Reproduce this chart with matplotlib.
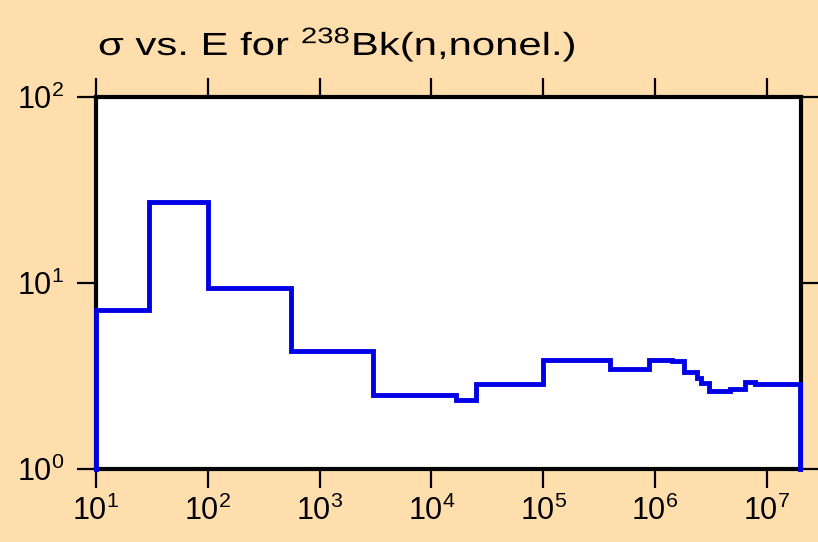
import matplotlib
matplotlib.use("Agg")
import matplotlib.pyplot as plt
import numpy as np
from matplotlib.patheffects import AbstractPathEffect
from matplotlib.transforms import Affine2D

plt.rcParams['font.family'] = ['Liberation Sans', 'DejaVu Sans']
plt.rcParams['mathtext.fontset'] = 'custom'
plt.rcParams['mathtext.rm'] = 'Liberation Sans'
plt.rcParams['mathtext.it'] = 'Liberation Sans'
plt.rcParams['mathtext.bf'] = 'Liberation Sans'
plt.rcParams['mathtext.default'] = 'regular'

# Bin edges (eV) and cross sections (b)
edges = [10, 30, 100, 550, 3000, 16500, 25000, 1.0e5, 4.0e5, 8.9e5, 1.42e6,
         1.82e6, 2.37e6, 2.57e6, 3.03e6, 4.74e6, 6.45e6, 7.93e6, 2.0e7]
sigma = [7.2, 27.2, 9.4, 4.3, 2.5, 2.35, 2.86, 3.85, 3.45, 3.85, 3.80,
         3.34, 3.08, 2.91, 2.64, 2.68, 2.93, 2.86]

title = r"σ vs. E for $^{238}$Bk(n,nonel.)"


class StretchX(AbstractPathEffect):
    """Horizontally widen glyph outlines (text stays a real Text artist)."""
    def __init__(self, sx):
        super().__init__()
        self.sx = sx

    def draw_path(self, renderer, gc, tpath, affine, rgbFace=None):
        renderer.draw_path(gc, tpath, Affine2D().scale(self.sx, 1.0) + affine,
                           rgbFace)


fig = plt.figure(figsize=(8.18, 5.42), dpi=100, facecolor='#FFDEAD')
ax = fig.add_axes([0.1174, 0.1347, 0.8616, 0.6863])
ax.set_facecolor('white')

x = np.array(edges)
y = np.concatenate([[1.0], sigma, [1.0]])
xs = np.concatenate([[edges[0]], x])
ax.step(xs, y, where='post', color='#0000E6', lw=3.5, solid_joinstyle='miter',
        clip_on=False, zorder=3.5)

ax.set_xscale('log')
ax.set_yscale('log')
ax.set_xlim(10, 2.02e7)
ax.set_ylim(1, 100)
ax.minorticks_off()
ax.set_xticks([1e1, 1e2, 1e3, 1e4, 1e5, 1e6, 1e7])
ax.set_yticks([1, 10, 100])
ax.tick_params(which='major', direction='out', length=14, width=1.6,
               top=True, right=True, labelsize=22, colors='black')
ax.tick_params(axis='x', pad=5)
ax.tick_params(axis='y', pad=9)
for s in ax.spines.values():
    s.set_linewidth(3)
    s.set_zorder(3)

fig.text(98 / 818, 1 - 55 / 542, title, fontsize=23, ha='left', va='baseline',
         path_effects=[StretchX(1.31)])

fig.savefig('out.png', dpi=100, facecolor=fig.get_facecolor())
